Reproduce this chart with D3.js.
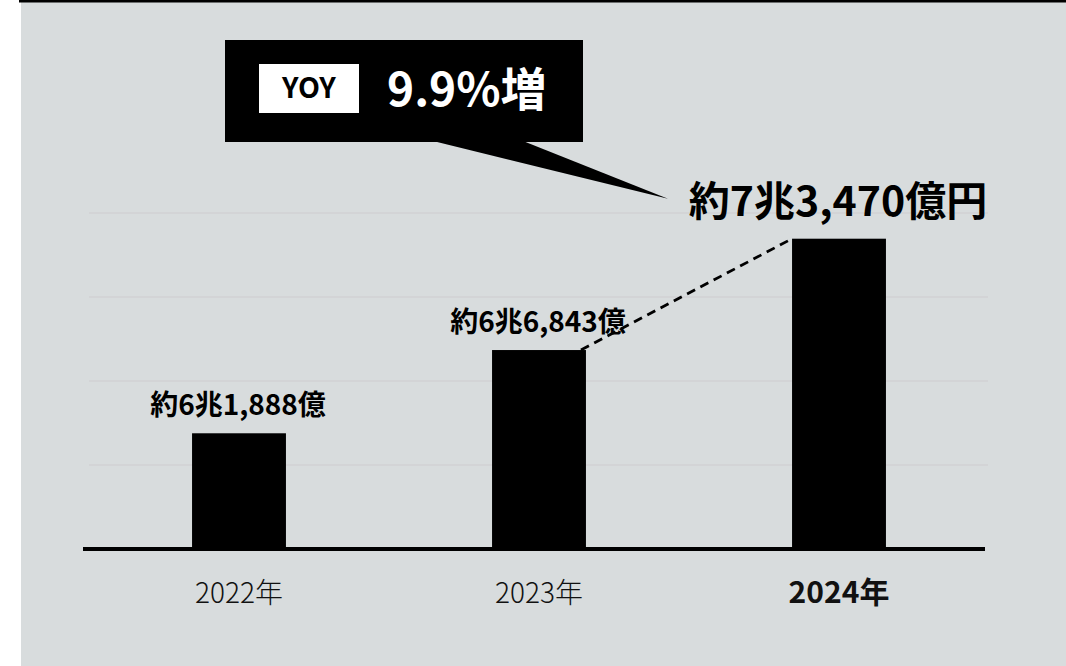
<!DOCTYPE html>
<html>
<head>
<meta charset="utf-8">
<script src="https://cdn.jsdelivr.net/npm/d3@7"></script>
<style>
  html, body { margin: 0; padding: 0; background: #ffffff; }
  svg { display: block; }
  text { font-family: "Noto Sans CJK JP", "Noto Sans", sans-serif; }
</style>
</head>
<body>
<svg id="chart" width="1066" height="666"></svg>
<script>
// Annual figures (unit: 億円)
const years = ["2022年", "2023年", "2024年"];
const values = [61888, 66843, 73470];
const valueLabels = ["約6兆1,888億", "約6兆6,843億", "約7兆3,470億円"];
const gridTicks = [60000, 65000, 70000, 75000];
const yoyTag = "YOY";
const yoyText = "9.9%増";

const W = 1066, H = 666;
const svg = d3.select("#chart");

// panel background and top rule
svg.append("rect").attr("x", 21).attr("y", 0).attr("width", W - 21).attr("height", H).attr("fill", "#d8dcdd");
svg.append("rect").attr("x", 19).attr("y", 0).attr("width", W - 19).attr("height", 2.5).attr("fill", "#000");

const x = d3.scaleBand().domain(years).range([89, 989]).paddingInner(0.687).paddingOuter(0.3435);
const y = d3.scaleLinear().domain([55000, 80000]).range([549, 129]);

// faint horizontal gridlines
svg.append("g")
  .selectAll("line").data(gridTicks).join("line")
  .attr("x1", 89).attr("x2", 988)
  .attr("y1", d => y(d)).attr("y2", d => y(d))
  .attr("stroke", "#d2d2d3").attr("stroke-width", 1.5);

// bars
svg.append("g")
  .selectAll("rect").data(values).join("rect")
  .attr("x", (d, i) => x(years[i]))
  .attr("y", d => y(d))
  .attr("width", x.bandwidth())
  .attr("height", d => y(55000) - y(d))
  .attr("fill", "#000");

// dashed connector between the 2023 and 2024 bar tops
svg.append("line")
  .attr("x1", x(years[1]) + x.bandwidth() - 5).attr("y1", y(values[1]))
  .attr("x2", x(years[2])).attr("y2", y(values[2]))
  .attr("stroke", "#000").attr("stroke-width", 2.8)
  .attr("stroke-dasharray", "9,6");

// baseline
svg.append("line")
  .attr("x1", 83).attr("x2", 985)
  .attr("y1", y(55000)).attr("y2", y(55000))
  .attr("stroke", "#000").attr("stroke-width", 4);

// x axis labels
const cx = i => x(years[i]) + x.bandwidth() / 2;
svg.append("g")
  .selectAll("text").data(years).join("text")
  .attr("x", (d, i) => cx(i))
  .attr("y", 603)
  .attr("text-anchor", "middle")
  .attr("font-size", (d, i) => i === 2 ? 30 : 28)
  .attr("font-weight", (d, i) => i === 2 ? 700 : 300)
  .attr("fill", "#111")
  .text(d => d);

// value labels
svg.append("g")
  .selectAll("text").data(values).join("text")
  .attr("x", (d, i) => cx(i) - 1)
  .attr("y", (d, i) => y(d) - (i === 2 ? 23 : 18))
  .attr("text-anchor", "middle")
  .attr("font-size", (d, i) => i === 2 ? 41 : 28)
  .attr("font-weight", 700)
  .attr("fill", "#000")
  .text((d, i) => valueLabels[i]);

// YOY callout with pointer toward the 2024 label
const tipX = cx(2) - 171, tipY = y(values[2]) - 40;
const box = { x: 225, y: 40, w: 358, h: 102 };
svg.append("path")
  .attr("d", `M${box.x + 208},${box.y + box.h - 1} L${box.x + 298},${box.y + box.h - 1} L${tipX},${tipY} Z`)
  .attr("fill", "#000");
svg.append("rect").attr("x", box.x).attr("y", box.y).attr("width", box.w).attr("height", box.h).attr("fill", "#000");
svg.append("rect").attr("x", 259).attr("y", 64).attr("width", 100).attr("height", 49).attr("fill", "#fff");
svg.append("text").attr("x", 309).attr("y", 98).attr("text-anchor", "middle")
  .attr("font-size", 28.5).attr("font-weight", 700).attr("fill", "#000").text(yoyTag);
svg.append("text").attr("x", 387).attr("y", 105.5)
  .attr("font-size", 46).attr("font-weight", 700).attr("fill", "#fff").text(yoyText);
</script>
</body>
</html>
